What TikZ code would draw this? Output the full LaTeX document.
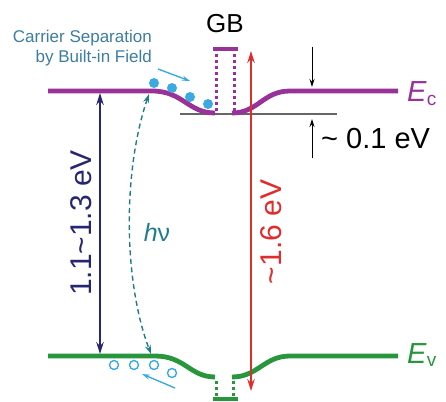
\documentclass[tikz,border=0pt]{standalone}
\usepackage{fontspec}
\setmainfont{Liberation Sans}
\usetikzlibrary{arrows.meta}
\definecolor{cbpurple}{RGB}{152,50,152}
\definecolor{vbgreen}{RGB}{40,150,60}
\definecolor{navyc}{RGB}{38,38,115}
\definecolor{redc}{RGB}{222,45,45}
\definecolor{tealc}{RGB}{30,125,140}
\definecolor{dotblue}{RGB}{60,170,225}
\definecolor{txtblue}{RGB}{60,125,160}
\tikzset{
  band/.style={line width=4.8pt},
  gbdot/.style={line width=3pt, dash pattern=on 3pt off 3pt},
  gbbar/.style={line width=4pt},
  vtip/.style={{Stealth[length=12pt,width=7.5pt]}-{Stealth[length=12pt,width=7.5pt]}},
  smalltip/.style={-{Stealth[length=8pt,width=5pt]}},
  elec/.style={circle, fill=dotblue, inner sep=0pt, minimum size=10pt},
  hole/.style={circle, draw=dotblue, line width=1.4pt, fill=white, inner sep=0pt, minimum size=9pt},
  lbl/.style={inner sep=0pt, font=\fontsize{30}{32}\selectfont},
}
\begin{document}
\begin{tikzpicture}[x=1pt,y=-1pt]
\useasboundingbox (0,0) rectangle (446,401);
% coordinates
\coordinate (cbL) at (48,91);
\coordinate (cbA) at (152,91);
\coordinate (cbB) at (215,113);
\coordinate (cbC) at (232,113);
\coordinate (cbD) at (290,91);
\coordinate (cbR) at (398,91);
\coordinate (vbL) at (48,356);
\coordinate (vbA) at (155,356);
\coordinate (vbB) at (215,377);
\coordinate (vbC) at (232,377);
\coordinate (vbD) at (290,356);
\coordinate (vbR) at (398,356);
% gray reference line
\coordinate (gL) at (180,114);
\coordinate (gR) at (337,114);
\draw[gray!80!black, line width=1.3pt] (gL) -- (gR);
% conduction band
\draw[band, cbpurple] (cbL) -- (cbA) .. controls (183,91) and (188,113) .. (cbB);
\draw[band, cbpurple] (cbC) .. controls (258,113) and (263,91) .. (cbD) -- (cbR);
% valence band
\draw[band, vbgreen] (vbL) -- (vbA) .. controls (185,356) and (190,377) .. (vbB);
\draw[band, vbgreen] (vbC) .. controls (258,377) and (264,356) .. (vbD) -- (vbR);
% GB dotted (conduction)
\coordinate (gbt1) at (216,54);
\coordinate (gbb1) at (216,112);
\coordinate (gbt2) at (234,54);
\coordinate (gbb2) at (234,112);
\coordinate (bar1) at (213,49);
\coordinate (bar2) at (238,49);
\draw[gbdot, cbpurple] (gbt1) -- (gbb1);
\draw[gbdot, cbpurple] (gbt2) -- (gbb2);
\draw[gbbar, cbpurple] (bar1) -- (bar2);
% GB dotted (valence)
\coordinate (vgt1) at (216,381);
\coordinate (vgb1) at (216,396);
\coordinate (vgt2) at (233,381);
\coordinate (vgb2) at (233,396);
\coordinate (vbar1) at (213,399);
\coordinate (vbar2) at (238,399);
\draw[gbdot, vbgreen] (vgt1) -- (vgb1);
\draw[gbdot, vbgreen] (vgt2) -- (vgb2);
\draw[gbbar, vbgreen] (vbar1) -- (vbar2);
% navy arrow
\coordinate (nT) at (100,93);
\coordinate (nB) at (100,354);
\draw[navyc, line width=1.4pt, vtip] (nT) -- (nB);
% red arrow
\coordinate (rT) at (251,51);
\coordinate (rB) at (251,391);
\draw[redc, line width=1.4pt, vtip] (rT) -- (rB);
% h nu curve
\coordinate (hT) at (149,94);
\coordinate (hB) at (151,354);
\draw[tealc, line width=1.4pt, dash pattern=on 5pt off 3.5pt, {Stealth[length=9pt,width=6pt]}-{Stealth[length=9pt,width=6pt]}]
  (hT) .. controls (123,170) and (123,280) .. (hB);
% electrons
\node[elec] (e1) at (154,83) {};
\node[elec] (e2) at (172,88) {};
\node[elec] (e3) at (190,97) {};
\node[elec] (e4) at (208,104) {};
% holes
\node[hole] (h1) at (114,365) {};
\node[hole] (h2) at (134,365) {};
\node[hole] (h3) at (154,365) {};
\node[hole] (h4) at (172,373) {};
% carrier arrows
\coordinate (caS) at (158,69);
\coordinate (caE) at (190,81);
\draw[dotblue, line width=1.4pt, smalltip] (caS) -- (caE);
\coordinate (haS) at (175,388);
\coordinate (haE) at (142,374);
\draw[dotblue, line width=1.4pt, smalltip] (haS) -- (haE);
% 0.1 eV arrows
\coordinate (kT1) at (312,47);
\coordinate (kT2) at (312,87);
\coordinate (kB1) at (312,158);
\coordinate (kB2) at (312,119);
\draw[black, line width=1pt, smalltip] (kT1) -- (kT2);
\draw[black, line width=1pt, smalltip] (kB1) -- (kB2);
% texts
\node[inner sep=0pt, anchor=base east, text=txtblue, font=\fontsize{17}{20}\selectfont] (t1) at (152,43) {Carrier Separation};
\node[inner sep=0pt, anchor=base east, text=txtblue, font=\fontsize{17}{20}\selectfont] (t2) at (152,63) {by Built-in Field};
\node[inner sep=0pt, anchor=base, font=\fontsize{26}{30}\selectfont] (gb) at (225,33) {GB};
\node[inner sep=0pt, anchor=base west, font=\fontsize{29}{32}\selectfont] (dE) at (321,148) {\textasciitilde{} 0.1 eV};
\node[inner sep=0pt, anchor=base west, text=cbpurple, font=\fontsize{29}{32}\selectfont] (Ec) at (407,102) {\textit{E}\raisebox{-3pt}{\fontsize{19}{20}\selectfont c}};
\node[inner sep=0pt, anchor=base west, text=vbgreen, font=\fontsize{29}{32}\selectfont] (Ev) at (407,363) {\textit{E}\raisebox{-3pt}{\fontsize{19}{20}\selectfont v}};
\node[lbl, rotate=90, text=navyc] (Lg) at (81,223) {1.1\textasciitilde1.3 eV};
\node[lbl, rotate=90, text=redc] (Lr) at (271,232) {\textasciitilde1.6 eV};
\node[inner sep=0pt, text=tealc, font=\fontsize{25}{28}\selectfont] (hv) at (157,232) {\textit{h}ν};
\end{tikzpicture}
\end{document}
